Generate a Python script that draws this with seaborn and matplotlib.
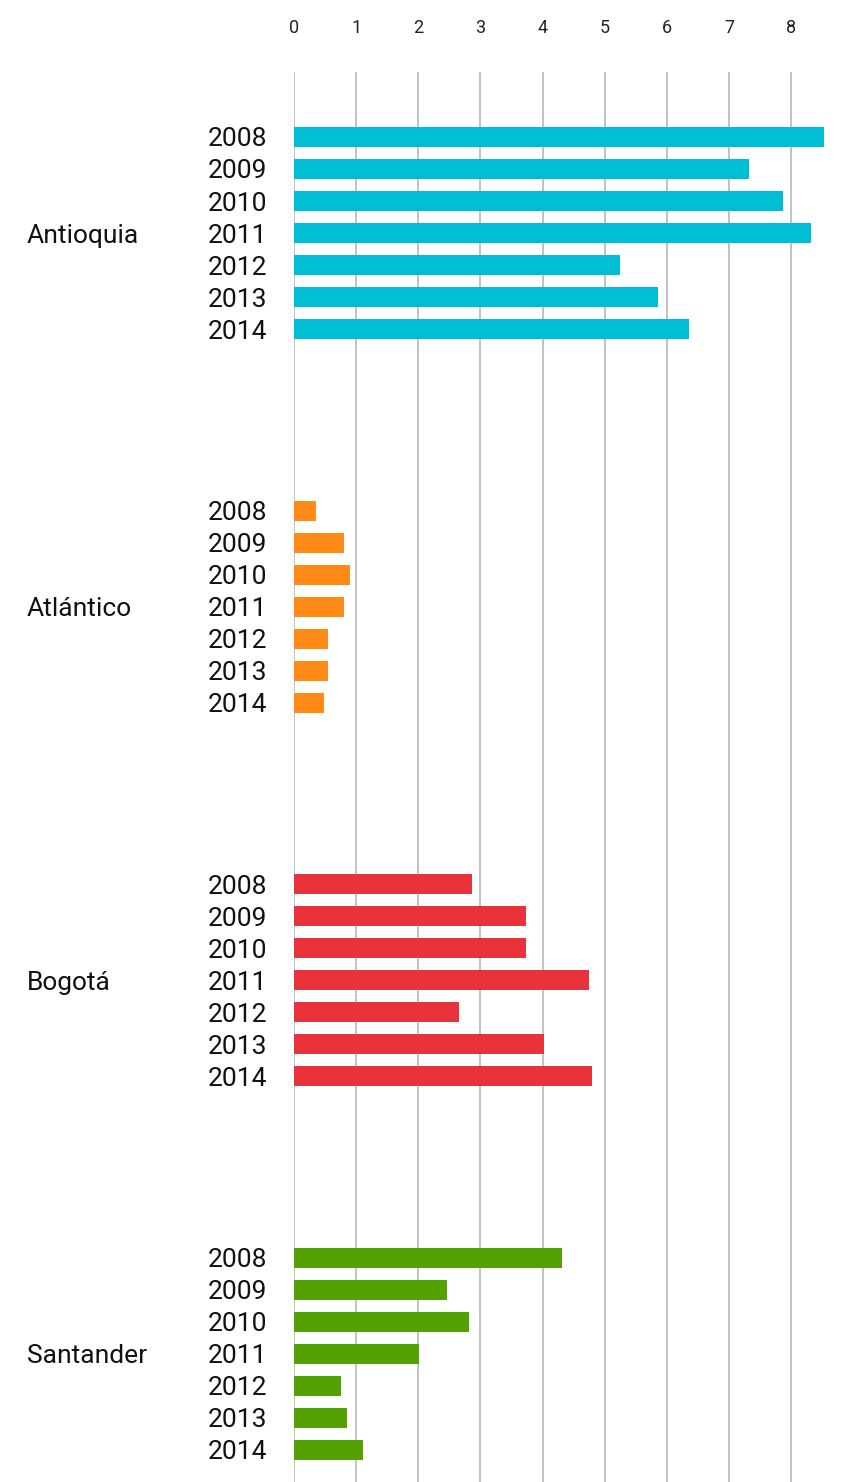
import matplotlib
matplotlib.use("Agg")
import matplotlib.pyplot as plt
import seaborn as sns
import pandas as pd

states = ["Antioquia", "Atlántico", "Bogotá", "Santander"]
years = ["2008", "2009", "2010", "2011", "2012", "2013", "2014"]
antioquia = [8.53, 7.32, 7.87, 8.32, 5.25, 5.86, 6.36]
atlantico = [0.35, 0.80, 0.90, 0.80, 0.54, 0.54, 0.49]
bogota = [2.87, 3.73, 3.73, 4.75, 2.66, 4.02, 4.80]
santander = [4.32, 2.46, 2.81, 2.01, 0.75, 0.85, 1.11]
x_ticks = [0, 1, 2, 3, 4, 5, 6, 7, 8]
colors = ["#00BED5", "#FF8B16", "#E9333B", "#53A201"]

rows = []
for st, vals in zip(states, [antioquia, atlantico, bogota, santander]):
    for yr, v in zip(years, vals):
        rows.append({"state": st, "year": yr, "value": v})
df = pd.DataFrame(rows)

sns.set_theme(style="white")
plt.rcParams["font.family"] = ["Roboto", "DejaVu Sans"]

W, H = 842, 1482
fig = plt.figure(figsize=(W / 100, H / 100), dpi=100)
ax = fig.add_axes([294 / W, 0, 548 / W, 1 - 72 / H])

sns.barplot(data=df, y="state", x="value", hue="year", order=states,
            hue_order=years, orient="h", width=0.6, gap=0.375,
            palette=["#000000"] * len(years), legend=False, ax=ax,
            errorbar=None, saturation=1)

# recolor by state
for cont in ax.containers:
    for si, p in enumerate(cont.patches):
        p.set_facecolor(colors[si])
        p.set_edgecolor("none")

ax.set_ylim(3.343, -0.431)
ax.set_xlim(0, 8.82)
ax.set_xticks(x_ticks)
ax.set_xticklabels([str(t) for t in x_ticks])
ax.xaxis.tick_top()
ax.tick_params(axis="x", length=0, pad=25, labelsize=13, labelcolor="#222222")
ax.tick_params(axis="y", length=0)
ax.set_yticklabels([])
ax.set_xlabel("")
ax.set_ylabel("")
for s in ax.spines.values():
    s.set_visible(False)
ax.grid(axis="x", color="#C2C2C2", linewidth=1.4)
ax.grid(axis="y", visible=False)
ax.set_axisbelow(True)

ytr = ax.get_yaxis_transform()
for yr, cont in zip(years, ax.containers):
    for p in cont.patches:
        yc = p.get_y() + p.get_height() / 2
        ax.text(-27 / 548, yc, yr, transform=ytr, ha="right",
                va="center_baseline", fontsize=19, color="#111111",
                clip_on=False)

for i, st in enumerate(states):
    ax.text(-267 / 548, ax.get_yticks()[i], st, transform=ytr, ha="left",
            va="center_baseline", fontsize=19, color="#111111", clip_on=False)

fig.savefig("out.png", dpi=100)
